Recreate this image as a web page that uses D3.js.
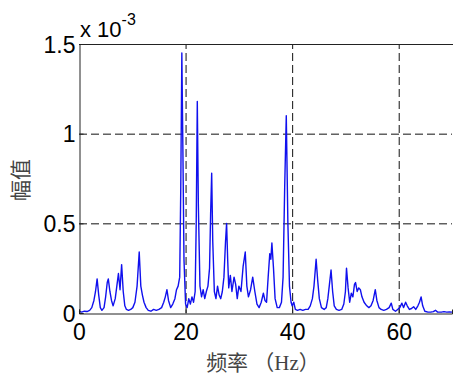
<!DOCTYPE html>
<html>
<head>
<meta charset="utf-8">
<script src="https://cdn.jsdelivr.net/npm/d3@7"></script>
<style>
  body { margin: 0; background: #fff; }
  svg { display: block; }
</style>
</head>
<body>
<div id="chart"></div>
<script>
// spectrum (frequency in Hz, amplitude in 1e-3)
const freq = [
  0.0, 0.5, 1.0, 1.5, 2.0, 2.4, 2.8, 3.1, 3.4, 3.7, 4.0, 4.3, 4.7, 5.0, 5.3, 5.5, 5.8, 6.1, 6.4, 6.8,
  7.1, 7.4, 7.7, 8.0, 8.3, 8.6, 8.9, 9.3, 9.7, 10.1, 10.5, 10.9, 11.3, 11.6, 11.9, 12.2, 12.6, 13.0, 13.5, 14.0,
  14.5, 15.0, 15.5, 15.9, 16.2, 16.5, 16.8, 17.2, 17.6, 18.0, 18.3, 18.6, 18.9, 19.1, 19.3, 19.5, 19.7, 20.0, 20.3, 20.6,
  20.9, 21.2, 21.5, 21.8, 22.0, 22.2, 22.4, 22.7, 23.0, 23.3, 23.6, 23.9, 24.2, 24.5, 24.7, 24.9, 25.1, 25.4, 25.7, 26.0,
  26.3, 26.6, 26.9, 27.2, 27.5, 27.7, 27.9, 28.1, 28.4, 28.7, 29.1, 29.4, 29.7, 30.0, 30.4, 30.8, 31.2, 31.5, 31.8, 32.2,
  32.6, 33.0, 33.4, 33.8, 34.2, 34.6, 34.9, 35.2, 35.5, 35.8, 36.0, 36.2, 36.5, 36.8, 37.2, 37.6, 38.0, 38.3, 38.6, 38.9,
  39.2, 39.5, 39.8, 40.0, 40.3, 40.6, 41.0, 41.5, 42.0, 42.5, 43.0, 43.4, 43.8, 44.1, 44.5, 44.8, 45.1, 45.5, 46.0, 46.4,
  46.7, 47.0, 47.3, 47.6, 47.9, 48.3, 48.8, 49.3, 49.7, 50.0, 50.2, 50.5, 50.8, 51.1, 51.4, 51.7, 51.9, 52.2, 52.5, 52.8,
  53.1, 53.5, 54.0, 54.4, 54.8, 55.2, 55.6, 55.9, 56.3, 56.7, 57.2, 57.7, 58.2, 58.6, 58.9, 59.4, 59.8, 60.2, 60.6, 60.9,
  61.3, 61.6, 62.0, 62.4, 62.8, 63.2, 63.6, 63.9, 64.2, 64.5, 64.9, 65.5, 66.0, 66.5, 66.9, 67.3, 68.0, 68.5, 69.0, 69.5,
  70.0
];
const amp = [
  0.01, 0.005, 0.01, 0.008, 0.015, 0.03, 0.07, 0.12, 0.19, 0.1, 0.03, 0.015, 0.03, 0.09, 0.17, 0.19, 0.12, 0.07, 0.04, 0.08,
  0.15, 0.22, 0.13, 0.27, 0.12, 0.04, 0.02, 0.015, 0.02, 0.03, 0.06, 0.15, 0.34, 0.15, 0.1, 0.06, 0.03, 0.015, 0.01, 0.02,
  0.015, 0.02, 0.03, 0.06, 0.09, 0.13, 0.07, 0.03, 0.05, 0.08, 0.13, 0.15, 0.2, 0.7, 1.45, 0.9, 0.3, 0.05, 0.03, 0.08,
  0.05, 0.09, 0.06, 0.12, 0.5, 1.18, 0.6, 0.15, 0.09, 0.13, 0.08, 0.12, 0.15, 0.25, 0.55, 0.78, 0.4, 0.12, 0.08, 0.15,
  0.1, 0.08, 0.12, 0.2, 0.4, 0.5, 0.3, 0.14, 0.21, 0.12, 0.2, 0.16, 0.08, 0.15, 0.12, 0.26, 0.34, 0.15, 0.09, 0.13,
  0.2, 0.12, 0.05, 0.03, 0.06, 0.11, 0.07, 0.06, 0.2, 0.33, 0.3, 0.39, 0.25, 0.08, 0.03, 0.03, 0.06, 0.2, 0.7, 1.10,
  0.5, 0.15, 0.06, 0.04, 0.06, 0.02, 0.015, 0.02, 0.015, 0.02, 0.02, 0.04, 0.08, 0.15, 0.3, 0.18, 0.08, 0.03, 0.02, 0.03,
  0.08, 0.16, 0.24, 0.12, 0.04, 0.02, 0.015, 0.02, 0.05, 0.12, 0.25, 0.14, 0.06, 0.11, 0.09, 0.16, 0.17, 0.12, 0.14, 0.13,
  0.09, 0.06, 0.04, 0.03, 0.04, 0.07, 0.13, 0.07, 0.03, 0.02, 0.015, 0.02, 0.03, 0.055, 0.02, 0.01, 0.02, 0.03, 0.055, 0.03,
  0.06, 0.04, 0.02, 0.025, 0.035, 0.02, 0.04, 0.06, 0.09, 0.04, 0.01, 0.005, 0.005, 0.008, 0.015, 0.005, 0.005, 0.008, 0.005, 0.006,
  0.005
];
const xTicks = [0, 20, 40, 60];
const yTicks = [0, 0.5, 1, 1.5];
const yTickLabels = ['0', '0.5', '1', '1.5'];

const W = 453, H = 381;
const margin = { top: 44, right: 1, bottom: 68, left: 79 };

const svg = d3.select('#chart').append('svg')
  .attr('width', W)
  .attr('height', H);

const x = d3.scaleLinear().domain([0, 70]).range([margin.left, W - margin.right]);
const y = d3.scaleLinear().domain([0, 1.5]).range([H - margin.bottom, margin.top]);

const tickFont = '"Liberation Sans", Arial, sans-serif';

// dashed grid
svg.append('g')
  .selectAll('line')
  .data(xTicks.filter(d => d > 0))
  .enter().append('line')
  .attr('x1', d => x(d) + 0.5).attr('x2', d => x(d) + 0.5)
  .attr('y1', y(0)).attr('y2', y(1.5))
  .attr('stroke', '#111').attr('stroke-width', 1)
  .attr('stroke-dasharray', '8,4');

svg.append('g')
  .selectAll('line')
  .data(yTicks.filter(d => d > 0 && d < 1.5))
  .enter().append('line')
  .attr('x1', x(0)).attr('x2', x(70))
  .attr('y1', d => y(d) + 0.5).attr('y2', d => y(d) + 0.5)
  .attr('stroke', '#111').attr('stroke-width', 1)
  .attr('stroke-dasharray', '8,4');

// spectrum line
const pts = freq.map((f, i) => [f, amp[i]]);
svg.append('path')
  .datum(pts)
  .attr('fill', 'none')
  .attr('stroke', '#1010ee')
  .attr('stroke-width', 1.4)
  .attr('stroke-linejoin', 'round')
  .attr('d', d3.line().x(d => x(d[0])).y(d => y(d[1])));

// axes
const xAxis = svg.append('g')
  .attr('transform', `translate(0,${y(0) + 0.5})`)
  .call(d3.axisBottom(x).tickValues(xTicks).tickSize(-4).tickPadding(10).tickFormat(d3.format('d')));
const yAxis = svg.append('g')
  .attr('transform', `translate(${x(0) + 0.5},0)`)
  .call(d3.axisLeft(y).tickValues(yTicks).tickSize(-4).tickPadding(4)
    .tickFormat((d, i) => yTickLabels[i]));

[xAxis, yAxis].forEach(g => {
  g.select('.domain').attr('stroke', '#222');
  g.selectAll('.tick line').attr('stroke', '#222');
  g.selectAll('.tick text')
    .attr('fill', '#000')
    .style('font-family', tickFont)
    .style('font-size', '23px');
});
yAxis.selectAll('.tick text').attr('dy', '0.36em');

// top border
svg.append('line')
  .attr('x1', x(0)).attr('x2', W)
  .attr('y1', y(1.5) + 0.5).attr('y2', y(1.5) + 0.5)
  .attr('stroke', '#222').attr('stroke-width', 1);

// exponent label
const expo = svg.append('text')
  .attr('x', 80).attr('y', 37)
  .style('font-family', tickFont)
  .style('font-size', '22px')
  .attr('fill', '#000');
expo.append('tspan').text('x 10');
expo.append('tspan').attr('dy', -12).style('font-size', '16px').text('-3');

// axis titles
svg.append('text')
  .attr('x', 263).attr('y', 370)
  .attr('text-anchor', 'middle')
  .attr('fill', '#444')
  .style('font-family', '"Liberation Serif", "Noto Sans CJK SC", serif')
  .style('font-size', '21px')
  .text('频率 （Hz）');

svg.append('text')
  .attr('transform', 'translate(28,180) rotate(-90)')
  .attr('text-anchor', 'middle')
  .attr('fill', '#444')
  .style('font-family', '"Noto Sans CJK SC", sans-serif')
  .style('font-size', '21px')
  .text('幅值');
</script>
</body>
</html>
